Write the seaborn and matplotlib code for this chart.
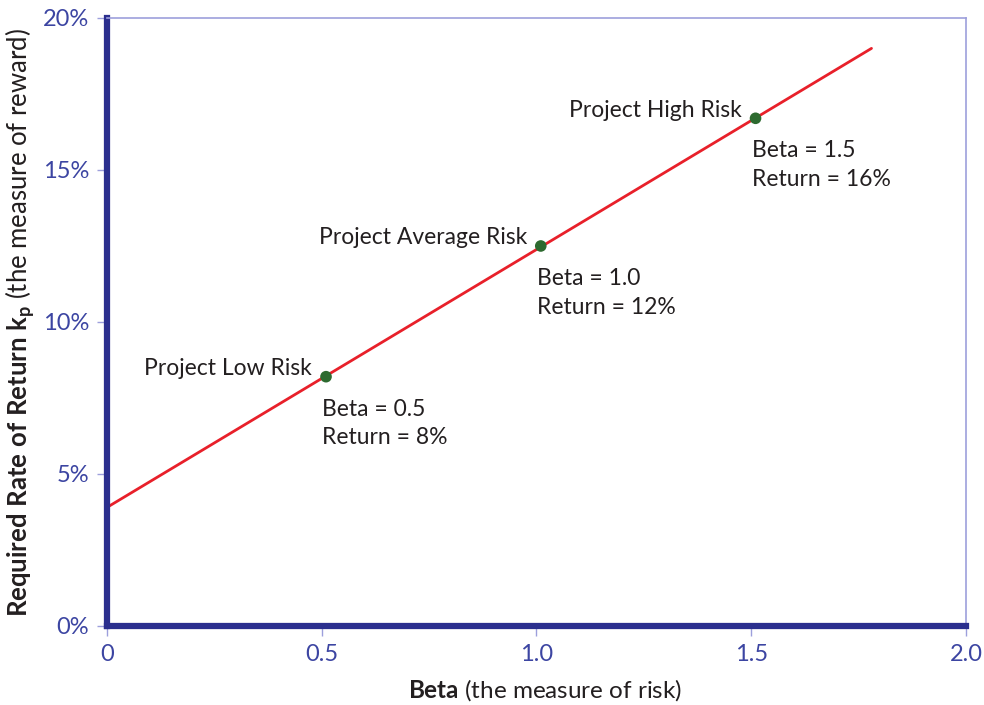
import matplotlib
matplotlib.use("Agg")
import matplotlib.pyplot as plt
import seaborn as sns
import pandas as pd

# Security market line (beta vs required return, %)
line_beta = [0.0, 1.78]
line_return = [3.9, 19.0]

# projects on the line
project_names = ["Project Low Risk", "Project Average Risk", "Project High Risk"]
project_beta = [0.51, 1.01, 1.51]
project_return = [8.2, 12.5, 16.7]
project_notes = ["Beta = 0.5\nReturn = 8%", "Beta = 1.0\nReturn = 12%", "Beta = 1.5\nReturn = 16%"]

x_ticks = [0, 0.5, 1.0, 1.5, 2.0]
x_ticklabels = ["0", "0.5", "1.0", "1.5", "2.0"]
y_ticks = [0, 5, 10, 15, 20]
y_ticklabels = ["0%", "5%", "10%", "15%", "20%"]

sns.set_theme(style="white")
plt.rcParams["font.family"] = ["Lato", "DejaVu Sans"]
plt.rcParams["mathtext.fontset"] = "custom"
plt.rcParams["mathtext.rm"] = "Lato"
plt.rcParams["mathtext.it"] = "Lato:italic"
plt.rcParams["mathtext.bf"] = "Lato:bold"

navy = "#2b2f8e"
light = "#9d9fdc"
tick_blue = "#3c45a2"
txt = "#231f20"

fig = plt.figure(figsize=(9.84, 7.05), dpi=100)
ax = fig.add_axes([0.1087, 0.1121, 0.873, 0.8624])

line_df = pd.DataFrame({"beta": line_beta, "ret": line_return})
pts_df = pd.DataFrame({"beta": project_beta, "ret": project_return, "name": project_names})

sns.lineplot(data=line_df, x="beta", y="ret", color="#e8202a", linewidth=2, ax=ax, zorder=2)
sns.scatterplot(data=pts_df, x="beta", y="ret", color="#2d6a2f", s=70, edgecolor="none", ax=ax, zorder=3)

for name, b, r, note in zip(project_names, project_beta, project_return, project_notes):
    ax.annotate(name, (b, r), xytext=(-14, 8), textcoords="offset pixels",
                ha="right", va="center", fontsize=16.5, color=txt)
    ax.annotate(note, (b, r), xytext=(-4, -22), textcoords="offset pixels",
                ha="left", va="top", fontsize=16.5, color=txt, linespacing=1.45)

ax.set_xlim(0, 2.0)
ax.set_ylim(0, 20)
ax.set_xticks(x_ticks)
ax.set_xticklabels(x_ticklabels)
ax.set_yticks(y_ticks)
ax.set_yticklabels(y_ticklabels)
ax.tick_params(axis="both", which="major", direction="out", length=7, width=1,
               color=light, labelcolor=tick_blue, labelsize=17, pad=6,
               bottom=True, left=True)

for side in ["top", "right"]:
    ax.spines[side].set_color(light)
    ax.spines[side].set_linewidth(1.2)
for side in ["left", "bottom"]:
    ax.spines[side].set_color(navy)
    ax.spines[side].set_linewidth(4.5)

ax.set_xlabel(r"$\mathbf{Beta}$ (the measure of risk)", fontsize=17.5, color=txt, labelpad=6)
ax.xaxis.set_label_coords(0.51, -0.085)
ax.set_ylabel(r"$\mathbf{Required\ Rate\ of\ Return\ k_p}$ (the measure of reward)",
              fontsize=18.5, color=txt, labelpad=4)

fig.savefig("out.png", dpi=100)
